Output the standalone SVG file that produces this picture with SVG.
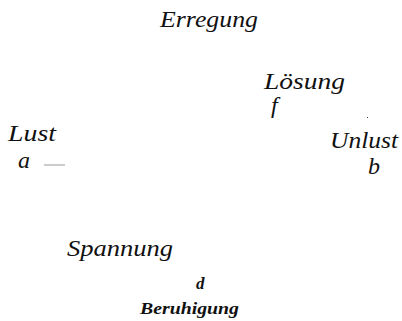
<svg xmlns="http://www.w3.org/2000/svg" width="402" height="321" viewBox="0 0 402 321">
<defs>
<style>
.l{font-size:24px;}
.s{font-size:17px;font-weight:bold;}
</style>
</defs>
<rect width="402" height="321" fill="#fff"/>
<g font-family="Liberation Serif, Times New Roman, serif" font-style="italic" fill="#111">
<g id="erregung"><text class="l" x="160" y="27" textLength="98" lengthAdjust="spacingAndGlyphs">Erregung</text></g>
<g id="loesung"><text class="l" x="264" y="89" textLength="81" lengthAdjust="spacingAndGlyphs">Lösung</text><text class="l" x="271" y="113">f</text></g>
<g id="lust"><text class="l" x="8" y="141" textLength="48" lengthAdjust="spacingAndGlyphs">Lust</text><text class="l" x="18" y="168">a</text></g>
<g id="unlust"><text class="l" x="330" y="148" textLength="68" lengthAdjust="spacingAndGlyphs">Unlust</text><text class="l" x="368" y="174">b</text></g>
<g id="spannung"><text class="l" x="67" y="256" textLength="106" lengthAdjust="spacingAndGlyphs">Spannung</text></g>
<g id="beruhigung"><text class="s" x="196" y="289">d</text><text class="s" x="140" y="314" textLength="99" lengthAdjust="spacingAndGlyphs">Beruhigung</text></g>
</g>
<g id="connectors">
<line x1="44" y1="165" x2="65" y2="165" stroke="#999" stroke-width="1"/>
<rect x="367" y="117" width="1" height="1" fill="#333"/>
</g>
</svg>
